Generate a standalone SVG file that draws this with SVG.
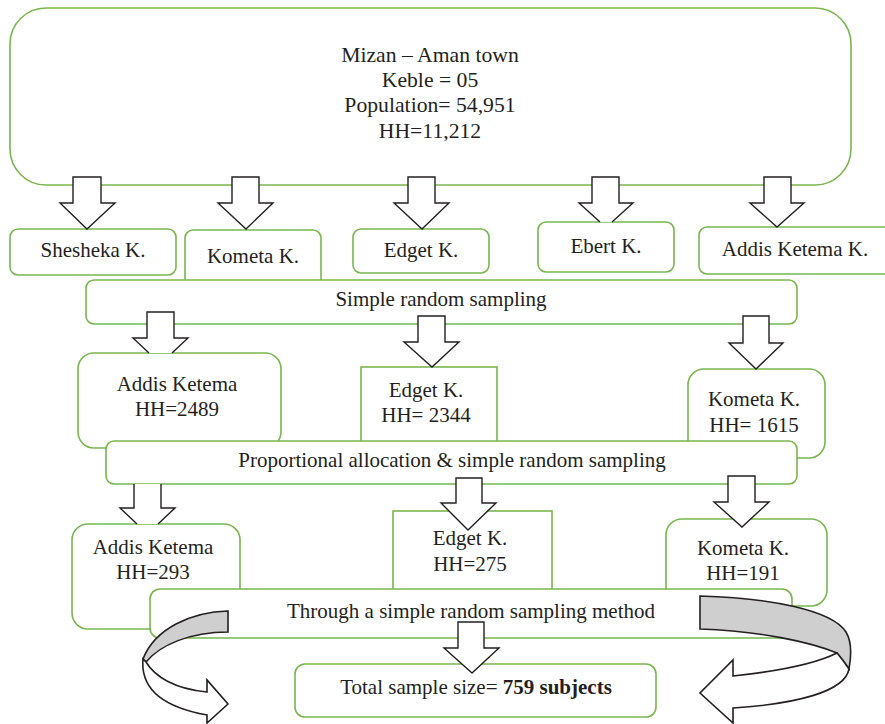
<svg xmlns="http://www.w3.org/2000/svg" width="885" height="724" viewBox="0 0 885 724">
<style>
.box{fill:#fff;stroke:#7ab64f;stroke-width:1.6}
.t{font-family:"Liberation Serif",Times,serif;font-size:21px;fill:#231f20;text-anchor:middle}
.top{font-size:21.7px}
.arr{fill:#fff;stroke:#231f20;stroke-width:1.4;stroke-linejoin:miter}
.af{fill:#fff;stroke:none}
.as{fill:none;stroke:#231f20;stroke-width:1.4}
.back{fill:#cfcfcf;stroke:#231f20;stroke-width:1.6}
.front{fill:#fff;stroke:#231f20;stroke-width:1.6}
</style>
<rect width="885" height="724" fill="#fff"/>

<g id="town">
<rect class="box" x="10" y="8" width="841" height="177" rx="36"/>
<text class="t top" x="430" y="62">Mizan – Aman town</text>
<text class="t top" x="430" y="87">Keble = 05</text>
<text class="t top" x="430" y="112">Population= 54,951</text>
<text class="t top" x="430" y="138">HH=11,212</text>
</g>

<g id="sheshaka">
<rect class="box" x="10" y="229" width="166" height="46" rx="8"/>
<text class="t" x="93" y="257">Shesheka K.</text>
</g>
<g id="kometa">
<rect class="box" x="185" y="230" width="136" height="60" rx="8"/>
<text class="t" x="253" y="263">Kometa K.</text>
</g>
<g id="edget">
<rect class="box" x="353" y="229" width="136" height="44" rx="8"/>
<text class="t" x="421" y="257">Edget K.</text>
</g>
<g id="ebert">
<rect class="box" x="538" y="222" width="136" height="50" rx="8"/>
<text class="t" x="606" y="253">Ebert K.</text>
</g>
<g id="addis">
<rect class="box" x="699" y="227" width="195" height="47" rx="8"/>
<text class="t" x="795" y="256">Addis Ketema K.</text>
</g>

<g id="srs">
<rect class="box" x="86" y="280" width="711" height="44" rx="8"/>
<text class="t" x="441" y="306">Simple random sampling</text>
</g>

<g id="addis2489">
<rect class="box" x="78" y="353" width="203" height="95" rx="16"/>
<text class="t" x="177" y="391">Addis Ketema</text>
<text class="t" x="177" y="416">HH=2489</text>
</g>
<g id="edget2344">
<rect class="box" x="361" y="367" width="136" height="90"/>
<text class="t" x="426" y="397">Edget K.</text>
<text class="t" x="426" y="422">HH= 2344</text>
</g>
<g id="kometa1615">
<rect class="box" x="688" y="369" width="137" height="89" rx="16"/>
<text class="t" x="754" y="406">Kometa K.</text>
<text class="t" x="754" y="432">HH= 1615</text>
</g>

<g id="proportional">
<rect class="box" x="106" y="441" width="691" height="43" rx="8"/>
<text class="t" x="452" y="467">Proportional allocation &amp; simple random sampling</text>
</g>

<g id="addis293">
<rect class="box" x="72" y="524" width="168" height="105" rx="16"/>
<text class="t" x="153" y="554">Addis Ketema</text>
<text class="t" x="153" y="579">HH=293</text>
</g>
<g id="edget275">
<rect class="box" x="393" y="511" width="159" height="100"/>
<text class="t" x="470" y="545">Edget K.</text>
<text class="t" x="470" y="571">HH=275</text>
</g>
<g id="kometa191">
<rect class="box" x="666" y="519" width="161" height="87" rx="16"/>
<text class="t" x="743" y="555">Kometa K.</text>
<text class="t" x="743" y="580">HH=191</text>
</g>

<g id="through">
<rect class="box" x="150" y="589" width="642" height="49" rx="10"/>
<text class="t" x="471" y="618">Through a simple random sampling method</text>
</g>

<g id="total">
<rect class="box" x="295" y="664" width="361" height="53" rx="10"/>
<text class="t" x="476" y="694">Total sample size= <tspan font-weight="bold">759 subjects</tspan></text>
</g>

<g id="connectors">
<!-- top row -->
<polygon class="arr" points="73,177 101,177 101,203 115,203 87,229 60,203 73,203"/>
<polygon class="arr" points="232,177 259,177 259,203 273,203 246,229 218,203 232,203"/>
<polygon class="arr" points="408,177 435,177 435,203 449,203 422,229 394,203 408,203"/>
<path class="arr" d="M600,222 L579,203 L592,203 L592,177 L619,177 L619,203 L633,203 L612,222"/>
<polygon class="arr" points="764,177 791,177 791,203 804,203 777,227 750,203 764,203"/>
<!-- to middle -->
<path class="arr" d="M149,353 L133,338 L147,338 L147,312 L174,312 L174,338 L188,338 L172,353"/>
<polygon class="arr" points="418,316 445,316 445,342 459,342 432,367 404,342 418,342"/>
<polygon class="arr" points="743,316 769,316 769,343 783,343 756,369 729,343 743,343"/>
<!-- to lower -->
<polygon class="af" points="134,484 161,484 161,508 175,508 158,524 137,524 120,508 134,508"/>
<path class="as" d="M134,484 L134,508 L120,508 L137,524 M161,484 L161,508 L175,508 L158,524"/>
<polygon class="arr" points="456,478 482,478 482,503 496,503 468,530 441,503 456,503"/>
<polygon class="arr" points="728,476 755,476 755,502 769,502 742,527 714,502 728,502"/>
<!-- to total -->
<polygon class="arr" points="458,622 484,622 484,648 499,648 472,673 444,648 458,648"/>
<!-- left curved arrow -->
<path class="back" d="M228,611 C192,612 155,628 143,659 L146,662 C160,645 190,632 228,632 Z"/>
<path class="front" d="M146,662 C155,677 175,689 207,692 L207,680 L228,704 L207,723 L207,715 C168,708 140,692 143,659 Z"/>
<!-- right curved arrow -->
<path class="back" d="M700,596 C770,598 832,610 846,632 C852,642 851,658 849,669 Q843,660 837,653 C810,642 760,631 700,629 Z"/>
<path class="front" d="M837,653 C815,664 780,671 733,676 L733,660 L700,693 L733,723 L733,708 C795,704 845,692 849,669 Q843,660 837,653 Z"/>
</g>
</svg>
